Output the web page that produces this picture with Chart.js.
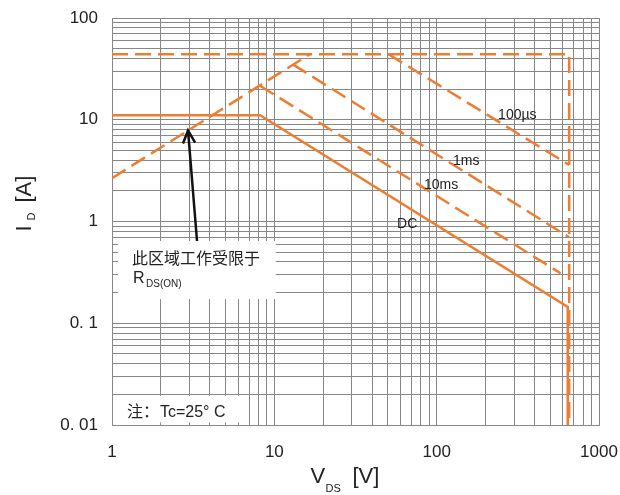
<!DOCTYPE html>
<html>
<head>
<meta charset="utf-8">
<script src="https://cdn.jsdelivr.net/npm/chart.js@4.4.1/dist/chart.umd.min.js"></script>
<style>
  html, body { margin: 0; padding: 0; background: #fff; }
  #wrap { width: 620px; height: 495px; }
</style>
</head>
<body>
<div id="wrap"><canvas id="soa" width="620" height="495"></canvas></div>
<script>
// SOA curves, V_DS [V] vs I_D [A]
const limitV = [1, 655, 655];
const limitI = [44, 44, 0.01];
const rdsV = [1, 16.5];
const rdsI = [2.67, 44];
const us100V = [50.5, 655];
const us100I = [44, 3.6];
const ms1V = [13, 655];
const ms1I = [35, 0.7];
const ms10V = [8.17, 580];
const ms10I = [21.6, 0.31];
const dcV = [1, 8.17, 642, 642];
const dcI = [11.1, 11.1, 0.145, 0.01];

const curveNames = ["100µs", "1ms", "10ms", "DC"];
const xDecades = [1, 10, 100, 1000];
const xLabels = ["1", "10", "100", "1000"];
const yDecades = [0.01, 0.1, 1, 10, 100];
const yLabels = ["0. 01", "0. 1", "1", "10", "100"];

const orange = "#ed7d31";
const gridGray = "#878787";
const textColor = "#222";
const latin = "'Liberation Sans', Arial, sans-serif";
const cjk = "'Noto Sans CJK SC', sans-serif";

document.addEventListener("DOMContentLoaded", function () {
  function toPoints(vs, is) {
    return vs.map((v, k) => ({ x: v, y: is[k] }));
  }

  // 1..9 per decade, so the grid gets every minor line and nothing else
  function logTicks(decades) {
    const ticks = [];
    decades.forEach((d, k) => {
      if (k === decades.length - 1) {
        ticks.push({ value: d });
        return;
      }
      for (let m = 1; m <= 9; m++) {
        ticks.push({ value: Math.round(d * m * 1000) / 1000 });
      }
    });
    return ticks;
  }

  function labelFor(value, decades, labels) {
    const k = decades.findIndex((d) => Math.abs(d - value) < d * 1e-6);
    return k >= 0 ? labels[k] : "";
  }

  function dashed(label, vs, is) {
    return {
      label: label,
      data: toPoints(vs, is),
      borderColor: orange,
      borderWidth: 2.5,
      borderDash: [16, 7],
      pointRadius: 0,
      fill: false,
    };
  }

  function pt(chart, v, i) {
    return {
      x: chart.scales.x.getPixelForValue(v),
      y: chart.scales.y.getPixelForValue(i),
    };
  }

  // keep the plot area fixed; labels may hang over the edges
  function noEdgePadding(s) {
    s.paddingLeft = 0;
    s.paddingRight = 0;
    s.paddingTop = 0;
    s.paddingBottom = 0;
  }

  const notesPlugin = {
    id: "notes",
    beforeDatasetsDraw(chart) {
      const ctx = chart.ctx;
      ctx.save();
      ctx.fillStyle = "#fff";
      let a = pt(chart, 1.089, 0.643);
      let b = pt(chart, 10.2, 0.173);
      ctx.fillRect(a.x, a.y, b.x - a.x, b.y - a.y);
      a = pt(chart, 1.014, 0.0193);
      b = pt(chart, 6.4, 0.0106);
      ctx.fillRect(a.x, a.y, b.x - a.x, b.y - a.y);
      ctx.restore();
    },
    afterDatasetsDraw(chart) {
      const ctx = chart.ctx;
      ctx.save();
      ctx.fillStyle = textColor;
      ctx.textBaseline = "alphabetic";
      ctx.textAlign = "left";

      // R_DS(on) note
      const box1 = pt(chart, 1.089, 0.643);
      ctx.font = "16px " + cjk;
      ctx.fillText("此区域工作受限于", box1.x + 14, box1.y + 23);
      ctx.font = "16px " + latin;
      ctx.fillText("R", box1.x + 15, box1.y + 42);
      ctx.font = "10px " + latin;
      ctx.fillText("DS(ON)", box1.x + 28, box1.y + 46);

      // Tc note
      const box2 = pt(chart, 1.014, 0.0193);
      ctx.font = "16px " + cjk;
      ctx.fillText("注：", box2.x + 14, box2.y + 21);
      ctx.font = "16px " + latin;
      ctx.fillText("Tc=25° C", box2.x + 47, box2.y + 21);

      // arrow onto the R_DS(on) line
      const tip = pt(chart, 2.94, 2.67 * 2.94);
      const tail = pt(chart, 3.34, 0.643);
      ctx.strokeStyle = "#111";
      ctx.lineWidth = 2.5;
      ctx.beginPath();
      ctx.moveTo(tail.x, tail.y);
      ctx.lineTo(tip.x, tip.y);
      const ang = Math.atan2(tail.y - tip.y, tail.x - tip.x);
      const len = 14;
      ctx.moveTo(tip.x + len * Math.cos(ang - 0.45), tip.y + len * Math.sin(ang - 0.45));
      ctx.lineTo(tip.x, tip.y);
      ctx.lineTo(tip.x + len * Math.cos(ang + 0.45), tip.y + len * Math.sin(ang + 0.45));
      ctx.stroke();

      // curve names
      const spots = [[239, 11.1], [126, 3.93], [83.6, 2.28], [57, 0.945]];
      ctx.font = "14px " + latin;
      ctx.textBaseline = "middle";
      curveNames.forEach((name, k) => {
        const p = pt(chart, spots[k][0], spots[k][1]);
        ctx.fillText(name, p.x, p.y);
      });
      ctx.restore();
    },
    afterDraw(chart) {
      const ctx = chart.ctx;
      const area = chart.chartArea;
      ctx.save();
      ctx.fillStyle = textColor;
      ctx.textAlign = "left";
      ctx.textBaseline = "alphabetic";

      // x title: V_DS [V]
      const sx = (area.left + area.right) / 2 - 45;
      ctx.font = "22px " + latin;
      ctx.fillText("V", sx, 483);
      ctx.fillText("[V]", sx + 42, 483);
      ctx.font = "11px " + latin;
      ctx.fillText("DS", sx + 15, 492);

      // y title: I_D [A]
      ctx.translate(31, (area.top + area.bottom) / 2 + 10);
      ctx.rotate(-Math.PI / 2);
      ctx.font = "22px " + latin;
      ctx.fillText("I", 0, 0);
      ctx.fillText("[A]", 29, 0);
      ctx.font = "11px " + latin;
      ctx.fillText("D", 11, 4);
      ctx.restore();
    },
  };

  const ctx = document.getElementById("soa").getContext("2d");
  new Chart(ctx, {
    type: "line",
    data: {
      datasets: [
        dashed("limit", limitV, limitI),
        dashed("RDS(on)", rdsV, rdsI),
        dashed("100µs", us100V, us100I),
        dashed("1ms", ms1V, ms1I),
        dashed("10ms", ms10V, ms10I),
        {
          label: "DC",
          data: toPoints(dcV, dcI),
          borderColor: orange,
          borderWidth: 2.5,
          pointRadius: 0,
          fill: false,
        },
      ],
    },
    options: {
      responsive: false,
      animation: false,
      devicePixelRatio: 1,
      layout: { padding: { top: 18, right: 21, left: 0, bottom: 0 } },
      plugins: { legend: { display: false }, tooltip: { enabled: false } },
      scales: {
        x: {
          type: "logarithmic",
          min: 1,
          max: 1000,
          afterBuildTicks: (s) => { s.ticks = logTicks(xDecades); },
          afterFit: (s) => { s.height = 70; noEdgePadding(s); },
          grid: { color: gridGray, lineWidth: 1, drawTicks: false },
          border: { color: gridGray, width: 1 },
          ticks: {
            autoSkip: false,
            maxRotation: 0,
            minRotation: 0,
            padding: 17,
            color: textColor,
            font: { family: latin, size: 17 },
            callback: (value) => labelFor(value, xDecades, xLabels),
          },
        },
        y: {
          type: "logarithmic",
          min: 0.01,
          max: 100,
          afterBuildTicks: (s) => { s.ticks = logTicks(yDecades); },
          afterFit: (s) => { s.width = 112; noEdgePadding(s); },
          grid: { color: gridGray, lineWidth: 1, drawTicks: false },
          border: { color: gridGray, width: 1 },
          ticks: {
            autoSkip: false,
            padding: 14,
            color: textColor,
            font: { family: latin, size: 17 },
            callback: (value) => labelFor(value, yDecades, yLabels),
          },
        },
      },
    },
    plugins: [notesPlugin],
  });
});
</script>
</body>
</html>
